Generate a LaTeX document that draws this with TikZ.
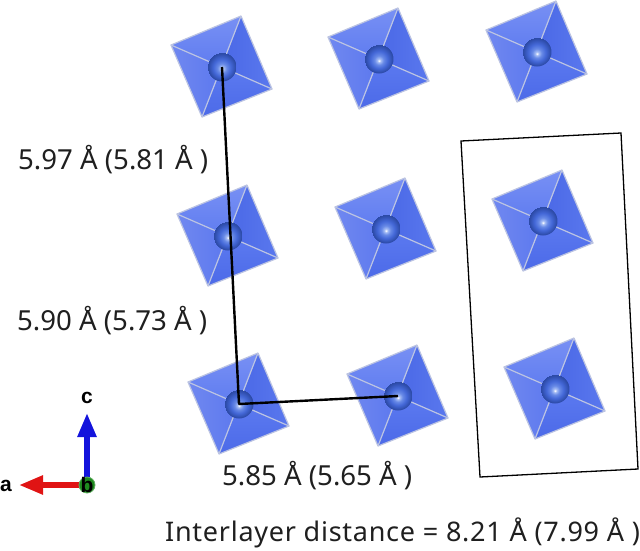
\documentclass[tikz,border=0pt]{standalone}
\usepackage{fontspec}
\setmainfont{Noto Sans}
\newfontfamily\axfont{Liberation Sans}
\newfontfamily\wideFont[LetterSpace=2.7]{Noto Sans}
\usetikzlibrary{arrows.meta}
\definecolor{edgeC}{HTML}{BCC4E2}
\definecolor{topF}{HTML}{7890F4}
\definecolor{topG}{HTML}{5F7CF0}
\definecolor{leftF}{HTML}{5C78EE}
\definecolor{leftG}{HTML}{7088F0}
\definecolor{rightF}{HTML}{4A68E6}
\definecolor{rightG}{HTML}{5A78EE}
\definecolor{botF}{HTML}{5C7AF0}
\definecolor{botG}{HTML}{4C6AE8}
\definecolor{ballOut}{HTML}{2C4AA6}
\definecolor{ballMid}{HTML}{4468D8}
\definecolor{ballLite}{HTML}{7FA0F0}
\definecolor{axR}{HTML}{E01414}
\definecolor{axB}{HTML}{1414DC}
\definecolor{axG}{HTML}{1F8A1F}
\pgfdeclareradialshading{ballshade}{\pgfpoint{0pt}{-3pt}}{%
  color(0pt)=(white);
  color(3pt)=(ballLite!70!white);
  color(8pt)=(ballLite!60!ballMid);
  color(15pt)=(ballMid);
  color(24pt)=(ballOut);
  color(25pt)=(ballOut)}
\tikzset{
  lbl/.style={font=\fontsize{27.6}{28}\selectfont, inner sep=0pt, text=black!88},
  axlbl/.style={font=\axfont\bfseries\fontsize{21}{21}\selectfont, inner sep=0pt, text=black},
  facet/.style={draw=edgeC, line width=1.2pt, line join=round},
  ball/.style={circle, minimum size=29pt, inner sep=0pt, shading=ballshade},
  link/.style={draw=black, line width=2.4pt, line join=round},
  cellbox/.style={draw=black, line width=1.3pt, line join=miter},
  pics/octa/.style={code={
    \coordinate (-T) at (19,-51);
    \coordinate (-L) at (-51,-22);
    \coordinate (-B) at (-20,50);
    \coordinate (-R) at (50,22);
    \shade[top color=topF, bottom color=topG] (-T) -- (-L) -- (0,0) -- cycle;
    \shade[left color=leftG, right color=leftF] (-L) -- (-B) -- (0,0) -- cycle;
    \shade[left color=rightF, right color=rightG] (-T) -- (-R) -- (0,0) -- cycle;
    \shade[top color=botF, bottom color=botG] (-B) -- (-R) -- (0,0) -- cycle;
    \draw[facet] (-T) -- (-L) -- (-B) -- (-R) -- cycle;
    \draw[facet] (-T) -- (-B) (-L) -- (-R);
  }}
}
\begin{document}
\begin{tikzpicture}[x=1pt,y=-1pt]
\useasboundingbox (0,0) rectangle (640,550);
\foreach \n/\px/\py in {a/222/67,b/379/59,c/537/52,d/228/236,e/386/229,f/543/221,g/239/404,h/398/396,i/555/389}{
  \pic (o\n) at (\px,\py) {octa};
  \node[ball] (\n) at (\px,\py) {};
}
\coordinate (c1) at (461,141);
\coordinate (c2) at (621,133);
\coordinate (c3) at (638,469);
\coordinate (c4) at (480,477);
\draw[cellbox] (c1) -- (c2) -- (c3) -- (c4) -- cycle;
\draw[link] (a.center) -- (g.center) -- (h.center);
\node[lbl, anchor=west] (t1) at (18,160) {5.97 Å (5.81 Å )};
\node[lbl, anchor=west] (t2) at (17,321) {5.90 Å (5.73 Å )};
\node[lbl, anchor=west] (t3) at (222,476) {5.85 Å (5.65 Å )};
\node[lbl, anchor=west, font=\fontsize{27}{28}\selectfont] (t4) at (165,533) {\wideFont Interlayer distance = 8.21 Å (7.99 Å )};
% axes
\coordinate (axo) at (87,485);
\coordinate (axa) at (19,485);
\coordinate (axc) at (87,413);
\draw[axB, line width=5.5pt, -{Triangle[length=24pt,width=18pt]}] (axo) -- (axc);
\draw[axR, line width=5.5pt, -{Triangle[length=24pt,width=18pt]}] (axo) -- (axa);
\node[circle, draw=axG!70!white, fill=axG, line width=.8pt, minimum size=16pt, inner sep=0pt] (axb) at (87,485) {};
\node[axlbl] (la) at (6,486) {a};
\node[axlbl] (lb) at (87,485) {b};
\node[axlbl] (lc) at (87,398) {c};
\end{tikzpicture}
\end{document}
